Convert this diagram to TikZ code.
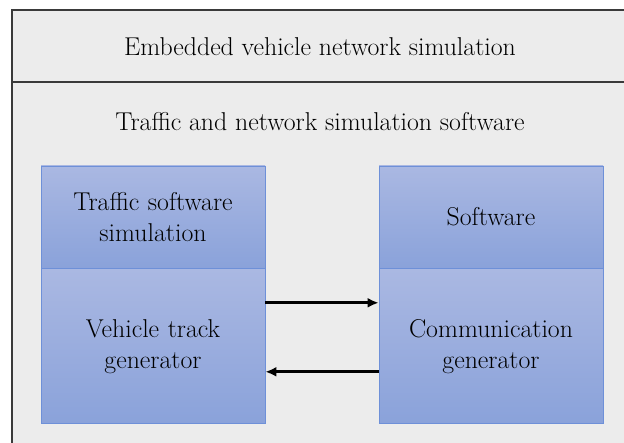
\documentclass[tikz,border=0pt]{standalone}
\usepackage{fontspec}
\usepackage{xcolor}
\usetikzlibrary{arrows.meta,positioning}

\definecolor{panelgray}{HTML}{ECECEC}
\definecolor{framegray}{HTML}{3A3A3A}
\definecolor{boxtop}{HTML}{AAB8E2}
\definecolor{boxbot}{HTML}{8AA2DA}
\definecolor{boxline}{HTML}{6E90D8}

\begin{document}
\begin{tikzpicture}[x=1pt,y=-1pt,font=\fontsize{25.8}{31}\selectfont]
  \tikzstyle{block} = [rectangle, draw=boxline, line width=0.8pt, top color=boxtop, bottom color=boxbot, text width=215pt, align=center, minimum width=224pt, inner sep=0pt]
  \tikzstyle{title} = [inner sep=0pt, text=black]
  \tikzstyle{line} = [draw, -{Latex[length=11pt,width=10pt]}, line width=3pt]

  \useasboundingbox (0,0) rectangle (624,443);
  \clip (0,0) rectangle (624,443);

  % Outer frame
  \fill[panelgray] (12,10) rectangle (640,460);
  \draw[framegray, line width=1.3pt] (12,460) -- (12,10) -- (640,10);
  \draw[framegray, line width=1.3pt] (12,82) -- (640,82);

  % Headings
  \node[title] (emb) at (320,47) {Embedded vehicle network simulation};
  \node[title] (tns) at (320,122) {Traffic and network simulation software};

  % Left column
  \node[block, minimum height=102pt] (tss) at (153,217) {Traffic software\\simulation};
  \node[block, minimum height=155pt, below=0pt of tss] (vtg) {Vehicle track\\generator};

  % Right column
  \node[block, minimum height=102pt] (sw) at (491,217) {Software};
  \node[block, minimum height=155pt, below=0pt of sw] (cg) {Communication\\generator};

  \draw[line] ([yshift=43.5pt]vtg.east) -- ([yshift=43.5pt]cg.west);
  \draw[line] ([yshift=-25.5pt]cg.west) -- ([yshift=-25.5pt]vtg.east);
\end{tikzpicture}
\end{document}
